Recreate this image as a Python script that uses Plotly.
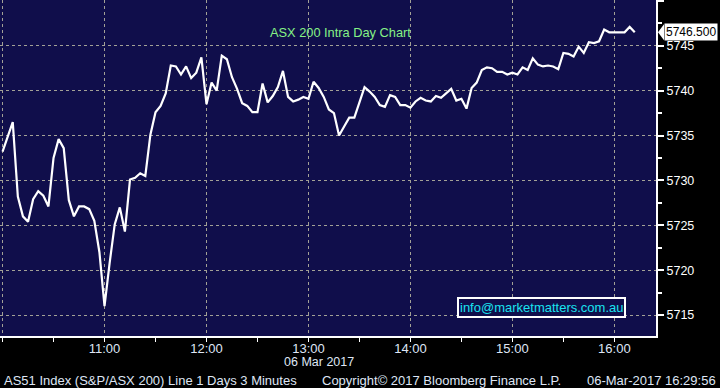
import plotly.graph_objects as go
import pandas as pd

# ---- data ----
start_time = "2017-03-06 10:00"
interval = "3min"
values = [
    5733.2, 5734.8, 5736.5, 5728.2, 5726.0, 5725.4, 5727.9, 5728.8, 5728.3, 5727.1,
    5732.5, 5734.6, 5733.6, 5727.8, 5726.0, 5727.1, 5727.1, 5726.8, 5725.5, 5722.0,
    5716.0, 5720.8, 5725.1, 5727.0, 5724.3, 5730.1, 5730.3, 5730.8, 5730.5, 5735.1,
    5737.6, 5738.3, 5739.7, 5742.8, 5742.7, 5741.8, 5742.7, 5741.4, 5742.0, 5743.7,
    5738.5, 5740.9, 5740.0, 5743.9, 5743.5, 5741.5, 5740.2, 5738.6, 5738.3, 5737.6,
    5737.6, 5740.8, 5738.7, 5739.4, 5740.4, 5742.2, 5739.3, 5738.8, 5739.0, 5739.3,
    5739.1, 5741.0, 5740.3, 5739.3, 5737.9, 5737.5, 5735.0, 5736.0, 5737.0, 5737.0,
    5738.7, 5740.4, 5739.9, 5739.3, 5738.4, 5738.2, 5739.5, 5739.3, 5738.4, 5738.4,
    5738.1, 5738.8, 5739.2, 5738.9, 5738.8, 5739.4, 5739.2, 5739.7, 5740.2, 5738.9,
    5739.1, 5738.0, 5740.3, 5740.9, 5742.3, 5742.6, 5742.5, 5742.1, 5742.1, 5741.8,
    5742.0, 5741.8, 5742.6, 5742.3, 5743.6, 5742.9, 5742.7, 5742.8, 5742.7, 5742.4,
    5744.2, 5744.1, 5743.8, 5744.9, 5744.2, 5745.4, 5745.3, 5745.5, 5746.8, 5746.5,
    5746.5, 5746.5, 5746.5, 5747.1, 5746.5,
]
times = pd.date_range(start_time, periods=len(values), freq=interval)

x_tick_vals = ["2017-03-06 10:00", "2017-03-06 11:00", "2017-03-06 12:00", "2017-03-06 13:00",
               "2017-03-06 14:00", "2017-03-06 15:00", "2017-03-06 16:00"]
x_tick_text = ["", "11:00", "12:00", "13:00", "14:00", "15:00", "16:00"]
y_tick_vals = [5715, 5720, 5725, 5730, 5735, 5740, 5745, 5750]
y_tick_text = ["5715", "5720", "5725", "5730", "5735", "5740", "5745", ""]
last_value = 5746.5
last_label = "5746.500"

title_text = "ASX 200 Intra Day Chart"
email_text = "info@marketmatters.com.au"
date_text = "06 Mar 2017"
footer_left = "AS51 Index (S&P/ASX 200) Line 1 Days 3 Minutes"
footer_mid = "Copyright\u00a9 2017 Bloomberg Finance L.P."
footer_right = "06-Mar-2017 16:29:56"

# ---- styling ----
W, H = 720, 388
PW, PH = 656, 336
BG = "#100e4b"
GRID = "#a3a196"
TXT = "#dfe6f5"
FONT = "Liberation Sans, Arial, sans-serif"
y_range = [5712.67, 5750.1]
x_range = ["2017-03-06 09:58:30", "2017-03-06 16:24:30"]

fig = go.Figure()
fig.add_trace(go.Scatter(x=times, y=values, mode="lines",
                         line=dict(color="white", width=2.2), hoverinfo="skip",
                         showlegend=False))

fig.update_layout(
    width=W, height=H,
    margin=dict(l=0, r=W - PW, t=0, b=H - PH, pad=0, autoexpand=False),
    paper_bgcolor="black", plot_bgcolor=BG,
    font=dict(family=FONT, size=12, color=TXT),
    showlegend=False,
)
fig.update_xaxes(
    type="date", range=x_range,
    tickvals=x_tick_vals, ticktext=x_tick_text,
    showgrid=True, gridcolor=GRID, griddash="dot", gridwidth=1,
    showline=True, linecolor="white", linewidth=2,
    ticks="outside", ticklen=4, tickcolor="white", tickwidth=1,
    ticklabelstandoff=-5,
    minor=dict(dtick=30 * 60 * 1000, tick0="2017-03-06 10:00", ticks="outside",
               ticklen=4, tickcolor="white", showgrid=False),
    tickfont=dict(size=13, color=TXT, family=FONT),
    zeroline=False, fixedrange=True, automargin=False,
)
fig.update_yaxes(
    range=y_range, side="right",
    tickvals=y_tick_vals, ticktext=y_tick_text,
    showgrid=True, gridcolor=GRID, griddash="dot", gridwidth=1,
    showline=True, linecolor="white", linewidth=2,
    ticks="outside", ticklen=6, tickcolor="white", tickwidth=2,
    minor=dict(dtick=2.5, tick0=5715, ticks="outside", ticklen=4,
               tickcolor="white", showgrid=False),
    tickfont=dict(size=12.5, color="white", family=FONT),
    zeroline=False, fixedrange=True, automargin=False,
)

# last value pointer
px = 1.0 / PW
dy = (y_range[1] - y_range[0]) / PH
fig.add_shape(type="path", xref="paper", yref="y",
              path=f"M {1 + 2*px} {last_value} L {1 + 8*px} {last_value + 8*dy} "
                   f"L {1 + 8*px} {last_value - 8*dy} Z",
              fillcolor="white", line=dict(width=0))
fig.add_annotation(xref="paper", yref="y", x=1 + 8 * px, y=last_value,
                   xanchor="left", yanchor="middle", text=last_label, showarrow=False,
                   font=dict(size=12, color="black", family=FONT),
                   bgcolor="white", borderpad=1)

# title
fig.add_annotation(xref="paper", yref="paper", x=340 / PW, y=(PH - 33) / PH,
                   xanchor="center", yanchor="middle", text=title_text, showarrow=False,
                   font=dict(size=12.8, color="#86f286", family=FONT))
# email box
fig.add_annotation(xref="paper", yref="paper", x=541.5 / PW, y=(PH - 307.5) / PH,
                   xanchor="center", yanchor="middle", text=email_text, showarrow=False,
                   font=dict(size=13, color="#19e3f0", family=FONT),
                   bordercolor="white", borderwidth=2, borderpad=1, bgcolor=BG)
# date under axis
fig.add_annotation(xref="paper", yref="paper", x=356 / PW, y=(PH - 362) / PH,
                   xanchor="right", yanchor="middle", text=date_text, showarrow=False,
                   font=dict(size=12.5, color=TXT, family=FONT))
# footer
fy = (PH - 380) / PH
fig.add_annotation(xref="paper", yref="paper", x=2 / PW, y=fy, xanchor="left",
                   yanchor="middle", text=footer_left, showarrow=False,
                   font=dict(size=13, color=TXT, family=FONT))
fig.add_annotation(xref="paper", yref="paper", x=320 / PW, y=fy, xanchor="left",
                   yanchor="middle", text=footer_mid, showarrow=False,
                   font=dict(size=13, color=TXT, family=FONT))
fig.add_annotation(xref="paper", yref="paper", x=718 / PW, y=fy, xanchor="right",
                   yanchor="middle", text=footer_right, showarrow=False,
                   font=dict(size=13, color=TXT, family=FONT))

fig.write_html("out.html", config={"displayModeBar": False},
               post_script="document.body.style.margin='0';document.body.style.padding='0';")
